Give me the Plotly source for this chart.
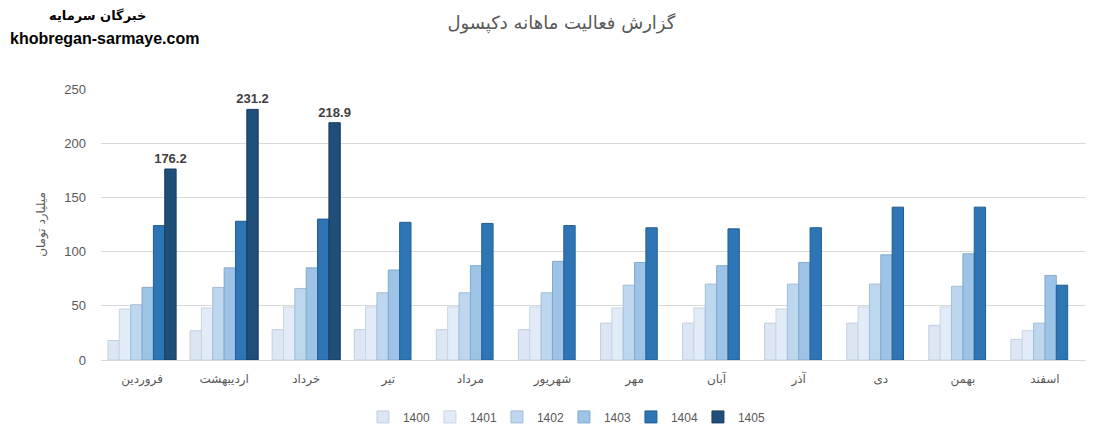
import plotly.graph_objects as go

months = ['فروردین', 'اردیبهشت', 'خرداد', 'تیر', 'مرداد', 'شهریور',
          'مهر', 'آبان', 'آذر', 'دی', 'بهمن', 'اسفند']

years = ['1400', '1401', '1402', '1403', '1404', '1405']

v1400 = [18, 27, 28, 28, 28, 28, 34, 34, 34, 34, 32, 19]
v1401 = [47, 48, 49, 49, 49, 49, 48, 48, 47, 49, 49, 27]
v1402 = [51, 67, 66, 62, 62, 62, 69, 70, 70, 70, 68, 34]
v1403 = [67, 85, 85, 83, 87, 91, 90, 87, 90, 97, 98, 78]
v1404 = [124, 128, 130, 127, 126, 124, 122, 121, 122, 141, 141, 69]
v1405 = [176.2, 231.2, 218.9, None, None, None, None, None, None, None, None, None]

series = [v1400, v1401, v1402, v1403, v1404, v1405]
colors = ['#dce6f4', '#e1ecf8', '#bdd7ee', '#9dc3e6', '#2e75b6', '#1f4e79']
edges = ['#c3cfdf', '#c8d5e3', '#a4bdd6', '#84a9cc', '#245d91', '#173b5c']

fa_font = 'Tahoma, DejaVu Sans, sans-serif'
num_font = 'Liberation Sans, Arial, DejaVu Sans, sans-serif'

fig = go.Figure()
for i, yr in enumerate(years):
    vals = series[i]
    is_last = yr == '1405'
    fig.add_trace(go.Bar(
        name=yr,
        x=months,
        y=vals,
        marker=dict(color=colors[i], line=dict(color=edges[i], width=1)),
        text=[('%.1f' % v) if (v is not None and is_last) else '' for v in vals],
        textposition='outside',
        textfont=dict(family=num_font, size=13, color='#404040', weight='bold'),
        cliponaxis=False,
        hoverinfo='x+y+name',
    ))

# page body adds 8px, so margins are shifted to compensate
fig.update_layout(
    width=1118, height=431,
    margin=dict(l=93, r=40, t=81, b=79, autoexpand=False),
    paper_bgcolor='white',
    plot_bgcolor='white',
    barmode='group',
    bargap=0.17,
    bargroupgap=0,
    title=dict(text='گزارش فعالیت ماهانه دکپسول', x=0.495, xanchor='center',
               y=0.967, yanchor='middle',
               font=dict(family=fa_font, size=18, color='#595959')),
    legend=dict(orientation='h', x=0.47, xanchor='center', y=-0.21, yanchor='middle',
                font=dict(family=num_font, size=12, color='#595959'),
                itemwidth=30, entrywidth=22, entrywidthmode='pixels',
                traceorder='normal'),
    uniformtext=dict(minsize=13, mode='show'),
    showlegend=True,
)

fig.update_xaxes(
    showgrid=False, showline=True, linecolor='#d9d9d9',
    tickfont=dict(family=fa_font, size=12, color='#595959'),
    ticks='', ticklabelstandoff=8, fixedrange=True,
)
fig.update_yaxes(
    range=[0, 250], dtick=50, showgrid=True, gridcolor='#d9d9d9',
    zeroline=False, showline=False,
    tickfont=dict(family=num_font, size=13, color='#595959'),
    ticklabelstandoff=14,
    title=dict(text='میلیارد تومان', standoff=16,
               font=dict(family=fa_font, size=12, color='#595959')),
    fixedrange=True,
)

fig.add_annotation(text='<b>خبرگان سرمایه</b>', xref='paper', yref='paper',
                   x=-0.004, y=1.273, xanchor='center', yanchor='middle', showarrow=False,
                   font=dict(family=fa_font, size=13, color='#000000'))
fig.add_annotation(text='<b>khobregan-sarmaye.com</b>', xref='paper', yref='paper',
                   x=-0.0944, y=1.188, xanchor='left', yanchor='middle', showarrow=False,
                   font=dict(family=num_font, size=16, color='#000000'))

fig.write_html('out.html')
